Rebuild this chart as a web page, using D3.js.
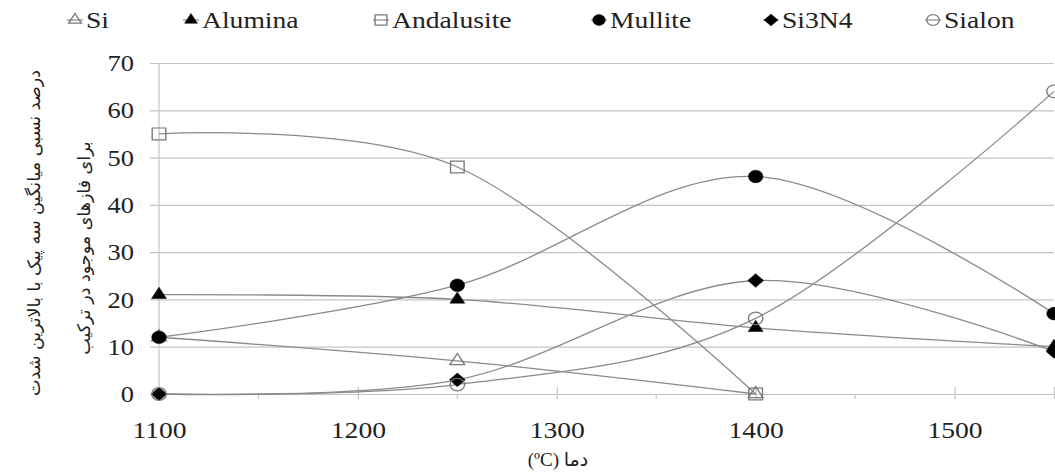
<!DOCTYPE html>
<html>
<head>
<meta charset="utf-8">
<script src="https://cdn.jsdelivr.net/npm/d3@7"></script>
</head>
<body style="margin:0">
<svg id="chart" width="1055" height="472"></svg>
<script>
// values
const temps = [1100, 1250, 1400, 1550];
const si = [12, 7, 0, null];
const alumina = [21, 20, 14, 10];
const andalusite = [55, 48, 0, null];
const mullite = [12, 23, 46, 17];
const si3n4 = [0, 3, 24, 9];
const sialon = [0, 2, 16, 64];

const yTicks = [0, 10, 20, 30, 40, 50, 60, 70];
const xTicks = [1100, 1200, 1300, 1400, 1500];
const xMinor = [1150, 1250, 1350, 1450];

const stretch = 1.15; // picture is a bit wide
const lineColor = "#8a8a8a";
const gridColor = "#c4c4c4";
const serifFont = "Tinos, 'Times New Roman', 'Liberation Serif'";

const series = [
  { name: "Si", values: si, symbol: d3.symbolTriangle, size: 72, filled: false },
  { name: "Alumina", values: alumina, symbol: d3.symbolTriangle, size: 72, filled: true },
  { name: "Andalusite", values: andalusite, symbol: d3.symbolSquare, size: 140, filled: false },
  { name: "Mullite", values: mullite, symbol: d3.symbolCircle, size: 125, filled: true },
  { name: "Si3N4", values: si3n4, symbol: d3.symbolDiamond2, size: 120, filled: true },
  { name: "Sialon", values: sialon, symbol: d3.symbolCircle, size: 125, filled: false }
];

const svg = d3.select("#chart");

const x = d3.scaleLinear().domain([1100, 1550]).range([159, 1054]);
const y = d3.scaleLinear().domain([0, 70]).range([394, 63]);

// widen latin text a little, like the picture
function widen(sel) {
  sel.each(function() {
    const w = this.getComputedTextLength();
    if (w > 0) d3.select(this).attr("textLength", w * stretch).attr("lengthAdjust", "spacingAndGlyphs");
  });
}

// gridlines + y labels
const yAxis = svg.append("g")
  .attr("transform", "translate(150,0)")
  .call(d3.axisLeft(y).tickValues(yTicks).tickSize(-(1054 - 150)).tickPadding(16));
yAxis.attr("font-family", null).attr("font-size", null);
yAxis.select(".domain").remove();
yAxis.selectAll(".tick line").attr("stroke", gridColor).attr("stroke-width", 1.2);
yAxis.selectAll(".tick text")
  .style("font-family", serifFont)
  .style("font-size", "23px")
  .attr("fill", "#222")
  .attr("dy", "0.33em")
  .call(widen);

// vertical axis line
svg.append("line")
  .attr("x1", x(1100)).attr("x2", x(1100))
  .attr("y1", y(70)).attr("y2", y(0) + 1)
  .attr("stroke", gridColor).attr("stroke-width", 1.2);

// x axis
const xAxis = svg.append("g")
  .attr("transform", `translate(0,${y(0)})`)
  .call(d3.axisBottom(x).tickValues(xTicks.concat([1550])).tickSizeInner(5).tickSizeOuter(0));
xAxis.attr("font-family", null).attr("font-size", null);
xAxis.select(".domain").remove();
xAxis.selectAll(".tick line").attr("stroke", gridColor).attr("stroke-width", 1.2).attr("y1", -7);
xAxis.selectAll(".tick text")
  .style("font-family", serifFont)
  .style("font-size", "24px")
  .attr("fill", "#222")
  .attr("y", 44)
  .attr("dy", 0)
  .text(d => d === 1550 ? "" : d)
  .call(widen);

svg.append("g")
  .selectAll("line")
  .data(xMinor)
  .join("line")
  .attr("x1", d => x(d)).attr("x2", d => x(d))
  .attr("y1", y(0)).attr("y2", y(0) + 5)
  .attr("stroke", gridColor).attr("stroke-width", 1.2);

// lines
const line = d3.line()
  .defined(d => d[1] !== null)
  .x(d => x(d[0]))
  .y(d => y(d[1]))
  .curve(d3.curveCardinal.tension(0));

svg.append("g")
  .selectAll("path")
  .data(series)
  .join("path")
  .attr("d", s => line(temps.map((t, i) => [t, s.values[i]])))
  .attr("fill", "none")
  .attr("stroke", lineColor)
  .attr("stroke-width", 1.3);

// markers
function marker(sel, s) {
  sel.attr("d", d3.symbol().type(s.symbol).size(s.size)())
    .attr("fill", s.filled ? "#000" : "none")
    .attr("stroke", s.filled ? "#000" : "#7a7a7a")
    .attr("stroke-width", s.filled ? 0.5 : 1.2);
}

series.forEach(s => {
  const pts = temps.map((t, i) => [t, s.values[i]]).filter(d => d[1] !== null);
  svg.append("g")
    .selectAll("path")
    .data(pts)
    .join("path")
    .attr("transform", d => `translate(${x(d[0])},${y(d[1])}) scale(${stretch},1)`)
    .call(marker, s);
});

// legend
const legendX = [75, 191, 381, 599, 771, 933];
const legend = svg.append("g")
  .selectAll("g")
  .data(series)
  .join("g")
  .attr("transform", (s, i) => `translate(${legendX[i]},20)`);

legend.append("line")
  .attr("x1", -8).attr("x2", 8)
  .attr("stroke", lineColor).attr("stroke-width", 1.2);
legend.append("path")
  .attr("transform", `scale(${stretch},1)`)
  .each(function(s) {
    d3.select(this).call(marker, Object.assign({}, s, { size: s.size * 0.75 }));
  });
legend.append("text")
  .style("font-family", serifFont)
  .style("font-size", "24px")
  .attr("fill", "#222")
  .attr("x", 11)
  .attr("y", 8)
  .text(s => s.name)
  .call(widen);

// axis titles
svg.append("text")
  .style("font-family", serifFont + ", 'DejaVu Sans'")
  .style("font-size", "19px")
  .attr("fill", "#222")
  .attr("text-anchor", "middle")
  .attr("x", 558)
  .attr("y", 466)
  .text("(ºC) دما");

const yTitle = ["درصد نسبی میانگین سه پیک با بالاترین شدت", "برای فازهای موجود در ترکیب"];
svg.append("g")
  .selectAll("text")
  .data(yTitle)
  .join("text")
  .style("font-family", "'DejaVu Sans'")
  .style("font-size", "17.5px")
  .attr("fill", "#222")
  .attr("text-anchor", "middle")
  .attr("transform", (d, i) => `translate(${i === 0 ? 40 : 90},${i === 0 ? 233 : 248}) rotate(-90)`)
  .text(d => d);
</script>
</body>
</html>
